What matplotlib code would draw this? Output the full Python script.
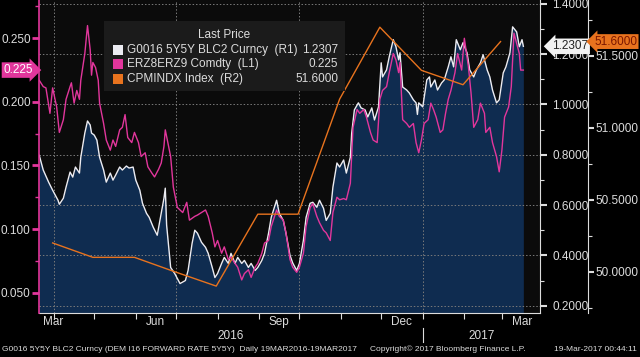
import matplotlib
matplotlib.use('Agg')
import matplotlib.pyplot as plt
import matplotlib.dates as mdates
import matplotlib.transforms as mtransforms
from matplotlib.patches import Rectangle
import pandas as pd

plt.rcParams['font.family'] = ['Liberation Sans', 'DejaVu Sans']

# G0016 5Y5Y BLC2 Curncy (R1)
fwd_dates = ['2016-03-21', '2016-03-24', '2016-03-28', '2016-03-31', '2016-04-04', '2016-04-05', '2016-04-08',
             '2016-04-10', '2016-04-13', '2016-04-15', '2016-04-17', '2016-04-20', '2016-04-21', '2016-04-24',
             '2016-04-26', '2016-04-28', '2016-04-29', '2016-05-01', '2016-05-03', '2016-05-05', '2016-05-08',
             '2016-05-10', '2016-05-13', '2016-05-15', '2016-05-17', '2016-05-20', '2016-05-22', '2016-05-25',
             '2016-05-27', '2016-05-30', '2016-06-01', '2016-06-04', '2016-06-06', '2016-06-09', '2016-06-11',
             '2016-06-14', '2016-06-17', '2016-06-20', '2016-06-22', '2016-06-23', '2016-06-24', '2016-06-27',
             '2016-06-30', '2016-07-04', '2016-07-08', '2016-07-10', '2016-07-13', '2016-07-15', '2016-07-17',
             '2016-07-20', '2016-07-23', '2016-07-25', '2016-07-28', '2016-07-30', '2016-08-01', '2016-08-04',
             '2016-08-06', '2016-08-09', '2016-08-11', '2016-08-14', '2016-08-16', '2016-08-19', '2016-08-21',
             '2016-08-24', '2016-08-26', '2016-08-29', '2016-08-31', '2016-09-03', '2016-09-05', '2016-09-08',
             '2016-09-10', '2016-09-14', '2016-09-16', '2016-09-19', '2016-09-21', '2016-09-24', '2016-09-26',
             '2016-09-29', '2016-10-01', '2016-10-04', '2016-10-06', '2016-10-09', '2016-10-11', '2016-10-14',
             '2016-10-16', '2016-10-19', '2016-10-21', '2016-10-24', '2016-10-26', '2016-10-29', '2016-10-31',
             '2016-11-03', '2016-11-05', '2016-11-08', '2016-11-09', '2016-11-11', '2016-11-14', '2016-11-16',
             '2016-11-19', '2016-11-21', '2016-11-24', '2016-11-26', '2016-11-29', '2016-12-01', '2016-12-02',
             '2016-12-05', '2016-12-07', '2016-12-10', '2016-12-12', '2016-12-14', '2016-12-15', '2016-12-17',
             '2016-12-20', '2016-12-22', '2016-12-25', '2016-12-27', '2016-12-28', '2016-12-29', '2017-01-01',
             '2017-01-04', '2017-01-06', '2017-01-07', '2017-01-10', '2017-01-12', '2017-01-15', '2017-01-17',
             '2017-01-20', '2017-01-22', '2017-01-24', '2017-01-26', '2017-01-29', '2017-01-31', '2017-02-03',
             '2017-02-05', '2017-02-08', '2017-02-10', '2017-02-13', '2017-02-15', '2017-02-18', '2017-02-20',
             '2017-02-22', '2017-02-25', '2017-02-27', '2017-03-02', '2017-03-04', '2017-03-07', '2017-03-09',
             '2017-03-12', '2017-03-14', '2017-03-16', '2017-03-17']
fwd_values = [0.798, 0.739, 0.691, 0.659, 0.619, 0.603, 0.627,
              0.671, 0.731, 0.711, 0.751, 0.727, 0.790, 0.886,
              0.934, 0.918, 0.886, 0.878, 0.858, 0.790, 0.739,
              0.691, 0.727, 0.699, 0.719, 0.751, 0.739, 0.755,
              0.747, 0.751, 0.699, 0.659, 0.607, 0.567, 0.551,
              0.512, 0.480, 0.567, 0.627, 0.667, 0.520, 0.352,
              0.328, 0.288, 0.300, 0.340, 0.448, 0.500, 0.488,
              0.452, 0.432, 0.408, 0.352, 0.312, 0.328, 0.368,
              0.392, 0.368, 0.408, 0.368, 0.392, 0.368, 0.380,
              0.352, 0.368, 0.340, 0.352, 0.380, 0.408, 0.488,
              0.551, 0.619, 0.567, 0.539, 0.488, 0.400, 0.370,
              0.340, 0.368, 0.460, 0.551, 0.607, 0.611, 0.591,
              0.619, 0.587, 0.539, 0.567, 0.671, 0.767, 0.751,
              0.779, 0.727, 0.790, 0.886, 0.978, 1.006, 0.986,
              0.978, 0.950, 0.986, 0.938, 0.990, 1.165, 1.109,
              1.137, 1.189, 1.257, 1.229, 1.177, 1.205, 1.069,
              1.057, 1.045, 1.018, 1.006, 0.960, 1.006, 0.990,
              1.097, 1.109, 1.069, 1.097, 1.057, 1.085, 1.097,
              1.149, 1.189, 1.149, 1.257, 1.217, 1.245, 1.205,
              1.137, 1.109, 1.137, 1.165, 1.197, 1.137, 1.109,
              1.057, 1.006, 1.018, 1.125, 1.149, 1.205, 1.308,
              1.288, 1.229, 1.257, 1.2307]

# ERZ8ERZ9 Comdty (L1)
spread_dates = ['2016-03-21', '2016-03-24', '2016-03-26', '2016-03-29', '2016-03-31', '2016-04-03', '2016-04-05',
                '2016-04-08', '2016-04-10', '2016-04-13', '2016-04-14', '2016-04-16', '2016-04-18', '2016-04-20',
                '2016-04-21', '2016-04-24', '2016-04-26', '2016-04-28', '2016-04-29', '2016-04-30', '2016-05-02',
                '2016-05-04', '2016-05-05', '2016-05-08', '2016-05-10', '2016-05-13', '2016-05-15', '2016-05-17',
                '2016-05-20', '2016-05-22', '2016-05-24', '2016-05-26', '2016-05-29', '2016-05-31', '2016-06-03',
                '2016-06-05', '2016-06-08', '2016-06-10', '2016-06-13', '2016-06-15', '2016-06-18', '2016-06-20',
                '2016-06-22', '2016-06-23', '2016-06-27', '2016-06-29', '2016-07-02', '2016-07-06', '2016-07-09',
                '2016-07-11', '2016-07-15', '2016-07-17', '2016-07-20', '2016-07-23', '2016-07-25', '2016-07-28',
                '2016-07-30', '2016-08-01', '2016-08-04', '2016-08-06', '2016-08-09', '2016-08-11', '2016-08-14',
                '2016-08-16', '2016-08-19', '2016-08-21', '2016-08-24', '2016-08-26', '2016-08-29', '2016-08-31',
                '2016-09-03', '2016-09-05', '2016-09-08', '2016-09-10', '2016-09-14', '2016-09-16', '2016-09-19',
                '2016-09-21', '2016-09-24', '2016-09-26', '2016-09-29', '2016-10-01', '2016-10-04', '2016-10-06',
                '2016-10-09', '2016-10-11', '2016-10-14', '2016-10-16', '2016-10-19', '2016-10-21', '2016-10-24',
                '2016-10-26', '2016-10-29', '2016-10-31', '2016-11-03', '2016-11-05', '2016-11-08', '2016-11-10',
                '2016-11-13', '2016-11-15', '2016-11-18', '2016-11-20', '2016-11-23', '2016-11-25', '2016-11-28',
                '2016-11-30', '2016-12-02', '2016-12-05', '2016-12-07', '2016-12-10', '2016-12-12', '2016-12-14',
                '2016-12-15', '2016-12-17', '2016-12-20', '2016-12-22', '2016-12-25', '2016-12-27', '2016-12-29',
                '2016-12-31', '2017-01-02', '2017-01-05', '2017-01-07', '2017-01-09', '2017-01-11', '2017-01-14',
                '2017-01-16', '2017-01-18', '2017-01-20', '2017-01-22', '2017-01-25', '2017-01-27', '2017-01-30',
                '2017-02-01', '2017-02-04', '2017-02-06', '2017-02-08', '2017-02-11', '2017-02-13', '2017-02-16',
                '2017-02-17', '2017-02-20', '2017-02-22', '2017-02-25', '2017-02-27', '2017-03-01', '2017-03-03',
                '2017-03-06', '2017-03-08', '2017-03-10', '2017-03-12', '2017-03-14', '2017-03-15', '2017-03-17']
spread_values = [0.217, 0.212, 0.211, 0.191, 0.211, 0.196, 0.176,
                 0.186, 0.202, 0.212, 0.215, 0.199, 0.209, 0.202,
                 0.217, 0.238, 0.260, 0.241, 0.221, 0.231, 0.227,
                 0.217, 0.199, 0.183, 0.170, 0.162, 0.170, 0.165,
                 0.178, 0.180, 0.190, 0.172, 0.168, 0.176, 0.168,
                 0.157, 0.160, 0.149, 0.144, 0.141, 0.147, 0.152,
                 0.165, 0.178, 0.157, 0.133, 0.117, 0.113, 0.121,
                 0.107, 0.110, 0.111, 0.113, 0.115, 0.110, 0.097,
                 0.086, 0.091, 0.081, 0.086, 0.076, 0.078, 0.073,
                 0.070, 0.060, 0.065, 0.068, 0.062, 0.070, 0.073,
                 0.081, 0.089, 0.091, 0.102, 0.115, 0.110, 0.107,
                 0.097, 0.076, 0.070, 0.066, 0.070, 0.081, 0.102,
                 0.117, 0.120, 0.110, 0.105, 0.099, 0.097, 0.091,
                 0.113, 0.125, 0.123, 0.124, 0.123, 0.136, 0.180,
                 0.194, 0.191, 0.194, 0.188, 0.176, 0.170, 0.168,
                 0.202, 0.209, 0.212, 0.223, 0.238, 0.233, 0.223,
                 0.231, 0.186, 0.183, 0.180, 0.183, 0.168, 0.160,
                 0.170, 0.183, 0.186, 0.199, 0.194, 0.188, 0.176,
                 0.178, 0.191, 0.202, 0.209, 0.223, 0.238, 0.225,
                 0.250, 0.228, 0.207, 0.180, 0.186, 0.199, 0.191,
                 0.176, 0.180, 0.168, 0.157, 0.145, 0.162, 0.188,
                 0.196, 0.212, 0.254, 0.246, 0.238, 0.225, 0.225]

# CPMINDX Index (R2), monthly
pmi_dates = ['2016-03-31', '2016-04-30', '2016-05-31', '2016-06-30', '2016-07-31', '2016-08-31',
             '2016-09-30', '2016-10-31', '2016-11-30', '2016-12-31', '2017-01-31', '2017-02-28']
pmi_values = [50.2, 50.1, 50.1, 50.0, 49.9, 50.4, 50.4, 51.2, 51.7, 51.4, 51.3, 51.6]

month_labels = ['Mar', 'Jun', 'Sep', 'Dec', 'Mar']
month_label_dates = ['2016-03-31', '2016-06-16', '2016-09-16', '2016-12-16', '2017-03-16']
years = ['2016', '2017']

fwd_dates = pd.to_datetime(fwd_dates)
spread_dates = pd.to_datetime(spread_dates)
pmi_dates = pd.to_datetime(pmi_dates)
x_start, x_end = pd.Timestamp('2016-03-20 20:00'), pd.Timestamp('2017-03-29 10:00')
year_break = pd.Timestamp('2017-01-01')

white = '#ececf2'
pink = '#e2369c'
orange = '#e8731e'
navy = '#0f2c50'
txt = '#dcdcdc'
grid_kw = dict(color='#7a7a7a', ls=(0, (1.5, 2)), lw=0.7)

fig = plt.figure(figsize=(6.4, 3.57), dpi=100, facecolor='black')
ax = fig.add_axes([39 / 640, 1 - 313 / 357, 501 / 640, 313 / 357])
ax.set_facecolor('#0b0b0b')
ax_l = ax.twinx()
ax_r2 = ax.twinx()

# R1 series: filled area under the white line
ax.fill_between(fwd_dates, fwd_values, 0.0, color=navy, lw=0, zorder=1)
ax.plot(fwd_dates, fwd_values, color=white, lw=1.0, zorder=3)
ax.set_ylim(0.171, 1.4147)
ax.set_xlim(x_start, x_end)
ax.yaxis.tick_right()
ax.yaxis.set_major_locator(plt.MultipleLocator(0.2))
ax.yaxis.set_minor_locator(plt.MultipleLocator(0.1))
ax.yaxis.set_major_formatter(plt.FormatStrFormatter('%.4f'))
ax.tick_params(axis='y', which='major', colors=txt, length=5, width=1.5, pad=4, labelsize=8.5)
ax.tick_params(axis='y', which='minor', colors=txt, length=3, width=0.8)
ax.grid(axis='y', which='major', zorder=2.5, **grid_kw)
ax.set_axisbelow(False)

ax.xaxis.set_major_locator(mdates.MonthLocator(bymonth=(1, 4, 7, 10)))
ax.xaxis.set_minor_locator(mdates.MonthLocator())
ax.xaxis.set_major_formatter(plt.NullFormatter())
ax.tick_params(axis='x', which='both', colors=txt, length=4, width=0.8, direction='out')
for d in ax.xaxis.get_major_locator()():
    ax.axvline(d, zorder=2.5, **grid_kw)

for s in ['top', 'left']:
    ax.spines[s].set_visible(False)
ax.spines['right'].set_color(txt)
ax.spines['bottom'].set_color(txt)

# L1 series
ax_l.plot(spread_dates, spread_values, color=pink, lw=1.0)
ax_l.set_ylim(0.034, 0.2801)
ax_l.yaxis.tick_left()
ax_l.yaxis.set_major_locator(plt.MultipleLocator(0.05))
ax_l.yaxis.set_minor_locator(plt.MultipleLocator(0.025))
ax_l.yaxis.set_major_formatter(plt.FormatStrFormatter('%.3f'))
ax_l.tick_params(axis='y', which='major', colors=pink, labelcolor=txt, length=5, width=2, pad=1, labelsize=8.5)
ax_l.tick_params(axis='y', which='minor', colors=pink, length=3, width=1)
for s in ['top', 'right', 'bottom']:
    ax_l.spines[s].set_visible(False)
ax_l.spines['left'].set_color(pink)
ax_l.spines['left'].set_linewidth(1.2)

# R2 series
ax_r2.plot(pmi_dates, pmi_values, color=orange, lw=1.0)
ax_r2.set_ylim(49.713, 51.889)
ax_r2.spines['right'].set_position(('axes', 549 / 501))
ax_r2.yaxis.set_major_locator(plt.MultipleLocator(0.5))
ax_r2.yaxis.set_minor_locator(plt.MultipleLocator(0.25))
ax_r2.yaxis.set_major_formatter(plt.FormatStrFormatter('%.4f'))
ax_r2.tick_params(axis='y', which='major', colors=txt, length=4, width=1.5, pad=1.5, labelsize=8.5)
ax_r2.tick_params(axis='y', which='minor', colors=txt, length=3, width=0.8)
for s in ['top', 'left', 'bottom']:
    ax_r2.spines[s].set_visible(False)
ax_r2.spines['right'].set_color(txt)
ax_r2.set_xlim(x_start, x_end)

# last price tags
tl = mtransforms.blended_transform_factory(ax_l.transAxes, ax_l.transData)
ax_l.text(-0.012, spread_values[-1], f'{spread_values[-1]:.3f}', transform=tl, ha='right', va='center',
          fontsize=8.5, color='white', clip_on=False,
          bbox=dict(boxstyle='rarrow,pad=0.15', fc=pink, ec='none'))
tr = mtransforms.blended_transform_factory(ax.transAxes, ax.transData)
ax_r2.text(1.024, fwd_values[-1], f'{fwd_values[-1]:.4f}',
           transform=mtransforms.blended_transform_factory(ax_r2.transAxes, ax.transData),
           ha='left', va='center', fontsize=8.5, color='#222222', clip_on=False, zorder=10,
           bbox=dict(boxstyle='larrow,pad=0.15', fc='#f2f2f2', ec='none'))
t2 = mtransforms.blended_transform_factory(ax_r2.transAxes, ax_r2.transData)
ax_r2.text(1.108, pmi_values[-1], f'{pmi_values[-1]:.4f}', transform=t2, ha='left', va='center',
           fontsize=8.5, color='#7a1600', clip_on=False, zorder=10,
           bbox=dict(boxstyle='larrow,pad=0.12', fc=orange, ec='none'))

# month and year labels
bx = mtransforms.blended_transform_factory(ax.transData, ax.transAxes)
for lab, d in zip(month_labels, pd.to_datetime(month_label_dates)):
    ax.text(d, -0.029, lab, transform=bx, ha='center', va='center', fontsize=8.5, color=txt)
year_mid = [x_start + (year_break - x_start) / 2, year_break + (x_end - year_break) / 2]
for lab, d in zip(years, year_mid):
    ax.text(d, -0.074, lab, transform=bx, ha='center', va='center', fontsize=8.5, color=txt)
ax.plot([year_break, year_break], [-0.048, -0.093], transform=bx, color=txt, lw=0.8, clip_on=False)

# legend panel
ax_r2.add_patch(Rectangle((0.1297, 0.7093), 0.4814, 0.2236, transform=ax_r2.transAxes,
                          fc='#1b1b1b', ec='none', zorder=5))
ax_r2.text(0.37, 0.888, 'Last Price', transform=ax_r2.transAxes, ha='center', va='center',
           fontsize=8.5, color=txt, zorder=6)
legend_rows = [('G0016 5Y5Y BLC2 Curncy  (R1)', f'{fwd_values[-1]:.4f}', white),
               ('ERZ8ERZ9 Comdty  (L1)', f'{spread_values[-1]:.3f}', pink),
               ('CPMINDX Index  (R2)', f'{pmi_values[-1]:.4f}', orange)]
for i, (lab, val, col) in enumerate(legend_rows):
    yy = 0.840 - i * 0.046
    ax_r2.add_patch(Rectangle((0.147, yy - 0.016), 0.021, 0.032, transform=ax_r2.transAxes,
                              fc=col, ec='none', zorder=6))
    ax_r2.text(0.175, yy, lab, transform=ax_r2.transAxes, ha='left', va='center',
               fontsize=8.5, color=txt, zorder=6)
    ax_r2.text(0.597, yy, val, transform=ax_r2.transAxes, ha='right', va='center',
               fontsize=8.5, color=txt, zorder=6)

# footer
fig.text(0.003, 0.022, 'G0016 5Y5Y BLC2 Curncy (DEM I16 FORWARD RATE 5Y5Y)  Daily 19MAR2016-19MAR2017',
         fontsize=6, color=txt, ha='left', va='center')
fig.text(0.578, 0.022, 'Copyright\u00a9 2017 Bloomberg Finance L.P.', fontsize=6, color=txt, ha='left', va='center')
fig.text(0.995, 0.022, '19-Mar-2017 00:44:11', fontsize=6, color=txt, ha='right', va='center')

fig.savefig('out.png', dpi=100, facecolor='black')
